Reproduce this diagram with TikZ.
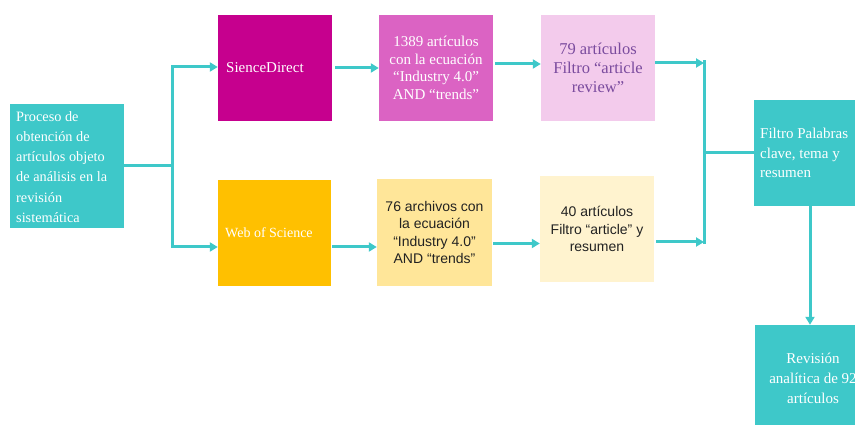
\documentclass[tikz,border=0pt]{standalone}
\usepackage{fontspec}
\setmainfont{Liberation Serif}
\newfontfamily\arialf{Liberation Sans}
\usetikzlibrary{arrows.meta}
\definecolor{tealc}{HTML}{3EC8C9}
\definecolor{magc}{HTML}{C6008E}
\definecolor{orchc}{HTML}{DB63C3}
\definecolor{pinkc}{HTML}{F3CBEC}
\definecolor{purpc}{HTML}{7A4B9E}
\definecolor{orgc}{HTML}{FFC000}
\definecolor{yelc}{HTML}{FFE699}
\definecolor{crmc}{HTML}{FFF3CF}
\definecolor{darkc}{HTML}{222222}
\tikzset{
  boxn/.style={inner sep=0pt, minimum width=114pt, minimum height=106pt, align=center,
    font=\fontsize{15}{17.5}\selectfont, text=white},
  sansbox/.style={boxn, font=\arialf\fontsize{14}{17.5}\selectfont, text=darkc},
  lbl/.style={inner sep=0pt, anchor=west, align=left, text=white},
  conn/.style={draw=tealc, line width=3pt},
  arr/.style={conn, -{Triangle[length=8pt,width=9pt]}}
}
\begin{document}
\begin{tikzpicture}[x=1pt,y=-1pt]
\useasboundingbox (0,0) rectangle (855,425);
\clip (0,0) rectangle (855,425);
% boxes
\node[boxn, fill=tealc, minimum height=124pt] (src) at (67,166) {};
\node[lbl, font=\fontsize{14.3}{20.2}\selectfont] (srcT) at (16,167)
  {Proceso de\\obtención de\\artículos objeto\\de análisis en la\\revisión\\sistemática};
\node[boxn, fill=magc] (sd) at (275,68) {};
\node[lbl, font=\fontsize{15}{18}\selectfont] (sdT) at (226,68) {SienceDirect};
\node[boxn, fill=orchc] (q1389) at (436,68)
  {1389 artículos\\con la ecuación\\“Industry 4.0”\\AND “trends”};
\node[boxn, fill=pinkc, text=purpc, font=\fontsize{16.5}{19}\selectfont] (a79) at (598,68)
  {79 artículos\\Filtro “article\\review”};
\node[boxn, fill=orgc, minimum width=113pt] (wos) at (274.5,233) {};
\node[lbl, font=\fontsize{14}{17}\selectfont] (wosT) at (225,233) {Web of Science};
\node[sansbox, fill=yelc, minimum width=115pt, minimum height=107pt] (a76) at (434.5,232.5)
  {76 archivos con\\la ecuación\\“Industry 4.0”\\AND “trends”};
\node[sansbox, fill=crmc] (a40) at (597,229)
  {40 artículos\\Filtro “article” y\\resumen};
\node[boxn, fill=tealc, minimum width=116pt] (filt) at (812,153) {};
\node[lbl, font=\fontsize{15}{19.5}\selectfont] (filtT) at (760,153)
  {Filtro Palabras\\clave, tema y\\resumen};
\node[boxn, fill=tealc, minimum width=116pt, font=\fontsize{15}{20}\selectfont] (rev) at (813,378)
  {Revisión\\analítica de 92\\artículos};
% junctions
\coordinate (jl) at (172,166);
\coordinate (jlt) at (172,67);
\coordinate (jlb) at (172,247);
\coordinate (jrt) at (704,62);
\coordinate (jrb) at (704,243);
\coordinate (jrm) at (704,153);
% connectors
\draw[conn] (src.east) -- (jl);
\draw[conn] ([yshift=1.5pt]jlt) -- ([yshift=-1.5pt]jlb);
\draw[arr] (jlt) -- (jlt -| sd.west);
\draw[arr] (jlb) -- (jlb -| wos.west);
\draw[arr, shorten <=3pt] (sd.east) -- (q1389.west);
\draw[arr, shorten <=2pt] ([yshift=4pt]q1389.east) -- ([yshift=4pt]a79.west);
\draw[arr] ([yshift=5pt]a79.east) -- ([yshift=5pt]a79.east -| jrt);
\draw[arr, shorten <=1pt] ([yshift=-14pt]wos.east) -- ([yshift=-14pt]wos.east -| a76.west);
\draw[arr, shorten <=1pt] ([yshift=-11pt]a76.east) -- ([yshift=-11pt]a76.east -| a40.west);
\draw[arr, shorten <=2pt] ([yshift=-13pt]a40.east) -- ([yshift=-13pt]a40.east -| jrt);
\draw[conn] ([yshift=1.5pt]jrt) -- ([yshift=-1.5pt]jrb);
\draw[conn] (jrm) -- (jrm -| filt.west);
\draw[arr] ([xshift=-2pt]filt.south) -- ([xshift=-3pt]rev.north);
\end{tikzpicture}
\end{document}
